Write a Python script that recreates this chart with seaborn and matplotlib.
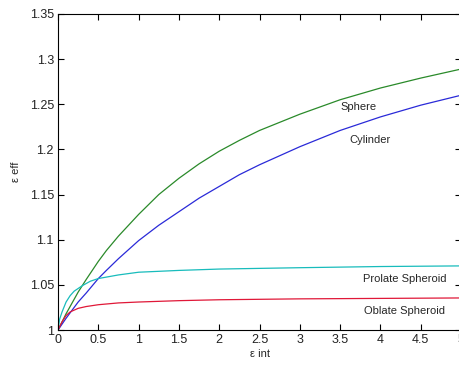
import matplotlib
matplotlib.use("Agg")
import matplotlib.pyplot as plt
import numpy as np
import pandas as pd
import seaborn as sns

# valores
x_sphere = [0, 0.1, 0.25, 0.35, 0.5, 0.6, 0.75, 1, 1.25, 1.5, 1.75, 2, 2.25, 2.5, 3, 3.5, 4, 4.5, 5]
y_sphere = [1.0, 1.018, 1.042, 1.056, 1.076, 1.088, 1.104, 1.128, 1.150, 1.168, 1.184, 1.198, 1.210, 1.221, 1.239, 1.255, 1.268, 1.279, 1.289]

x_cyl = [0, 0.1, 0.25, 0.35, 0.5, 0.6, 0.75, 1, 1.25, 1.5, 1.75, 2, 2.25, 2.5, 3, 3.5, 4, 4.5, 5]
y_cyl = [1.0, 1.013, 1.031, 1.041, 1.057, 1.066, 1.079, 1.099, 1.116, 1.131, 1.146, 1.159, 1.172, 1.183, 1.203, 1.221, 1.236, 1.249, 1.260]

x_prol = [0, 0.02, 0.05, 0.1, 0.15, 0.2, 0.3, 0.4, 0.5, 0.75, 1, 1.5, 2, 3, 4, 5]
y_prol = [1.0, 1.012, 1.020, 1.031, 1.038, 1.043, 1.049, 1.054, 1.057, 1.061, 1.064, 1.066, 1.0675, 1.069, 1.0703, 1.071]

x_obl = [0, 0.05, 0.1, 0.15, 0.25, 0.35, 0.5, 0.75, 1, 1.5, 2, 3, 4, 5]
y_obl = [1.0, 1.009, 1.016, 1.020, 1.024, 1.026, 1.028, 1.030, 1.031, 1.0325, 1.0335, 1.0345, 1.035, 1.0355]

nomes = ["Sphere", "Cylinder", "Prolate Spheroid", "Oblate Spheroid"]
cores = {"Sphere": "#2a8a2a", "Cylinder": "#2a2ad8", "Prolate Spheroid": "#18bcbc", "Oblate Spheroid": "#e01838"}

df = pd.concat([
    pd.DataFrame({"eps_int": x_sphere, "eps_eff": y_sphere, "forma": "Sphere"}),
    pd.DataFrame({"eps_int": x_cyl, "eps_eff": y_cyl, "forma": "Cylinder"}),
    pd.DataFrame({"eps_int": x_prol, "eps_eff": y_prol, "forma": "Prolate Spheroid"}),
    pd.DataFrame({"eps_int": x_obl, "eps_eff": y_obl, "forma": "Oblate Spheroid"}),
], ignore_index=True)

sns.set_style("ticks")
plt.rcParams['font.family'] = ['Liberation Sans', 'DejaVu Sans']
plt.rcParams['xtick.direction'] = 'in'
plt.rcParams['ytick.direction'] = 'in'

fig = plt.figure(figsize=(4.59, 3.67), dpi=100)
ax = fig.add_axes([0.1264, 0.1008, 0.8780, 0.8611])

sns.lineplot(data=df, x="eps_int", y="eps_eff", hue="forma", hue_order=nomes,
             palette=cores, linewidth=0.9, legend=False, ax=ax)

ax.set_xlim(0, 5)
ax.set_ylim(1, 1.35)
ax.set_xticks(np.arange(0, 5.01, 0.5))
ax.set_xticklabels(["0", "0.5", "1", "1.5", "2", "2.5", "3", "3.5", "4", "4.5", "5"])
ax.set_yticks(np.arange(1, 1.351, 0.05))
ax.set_yticklabels(["1", "1.05", "1.1", "1.15", "1.2", "1.25", "1.3", "1.35"])
ax.tick_params(axis='both', labelsize=9, length=4, width=0.8, color='black',
               top=True, right=True, pad=3, labelcolor='#222222')
for s in ax.spines.values():
    s.set_linewidth(0.8)
    s.set_color('black')

ax.set_xlabel("ε int", fontsize=8, labelpad=2)
ax.set_ylabel("ε eff", fontsize=8, labelpad=6)

# rótulos das curvas
ax.text(3.51, 1.247, "Sphere", fontsize=8, va='center')
ax.text(3.61, 1.210, "Cylinder", fontsize=8, va='center')
ax.text(3.78, 1.0565, "Prolate Spheroid", fontsize=8, va='center')
ax.text(3.80, 1.021, "Oblate Spheroid", fontsize=8, va='center')

fig.savefig("out.png", dpi=100)
